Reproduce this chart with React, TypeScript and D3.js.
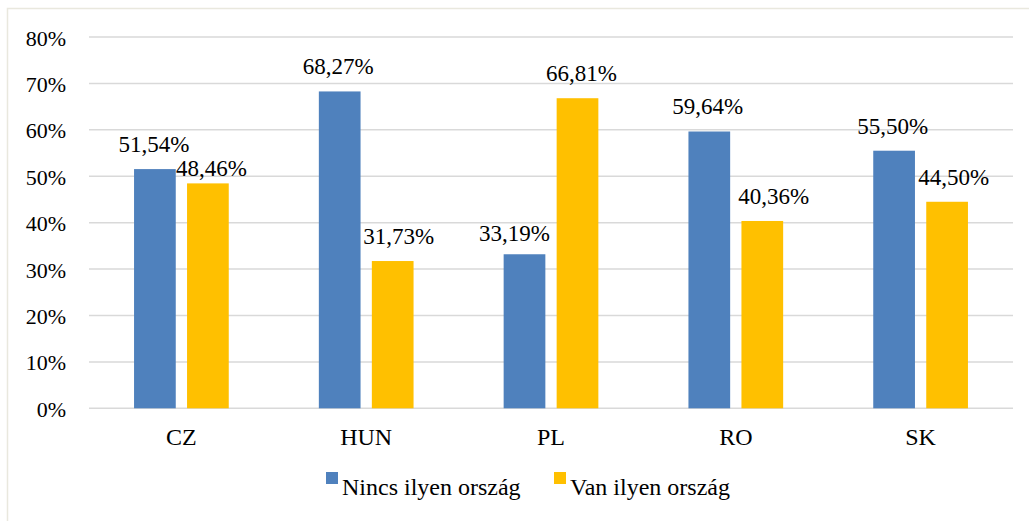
import React from "react";
import * as d3 from "d3";

const categories = ["CZ", "HUN", "PL", "RO", "SK"];
const seriesNames = ["Nincs ilyen ország", "Van ilyen ország"];
const nincs = [51.54, 68.27, 33.19, 59.64, 55.5];
const van = [48.46, 31.73, 66.81, 40.36, 44.5];
const yTicks = [0, 10, 20, 30, 40, 50, 60, 70, 80];
const colors = ["#4F81BD", "#FFC000"];

// label nudges (layout only)
const labelDx = [
  [-1, -1.5, -10, -1.5, -1.5],
  [3.5, 6, 4, 11.5, 6.5],
];
const labelDy = [
  [0, 0, 4, 0, 0],
  [10, 0, 0, 0, 0],
];

const W = 1029;
const H = 521;
const textStyle = { fontFamily: "Liberation Serif, Times New Roman, DejaVu Serif, serif" };

export default function App() {
  const y = d3.scaleLinear().domain([0, 80]).range([408.3, 37]);
  const x0 = d3
    .scaleBand<string>()
    .domain(categories)
    .range([89, 1013])
    .paddingInner(0.4875)
    .paddingOuter(0.4875 / 2);
  const x1 = d3
    .scaleBand<string>()
    .domain(seriesNames)
    .range([0, x0.bandwidth()])
    .paddingInner(0.213)
    .paddingOuter(0);
  const series = [nincs, van];
  const fmt = (v: number) => v.toFixed(2).replace(".", ",") + "%";

  return (
    <svg
      width={W}
      height={H}
      style={{ position: "absolute", left: 0, top: 0, background: "#fff" }}
    >
      <rect x={7.5} y={8.5} width={1040} height={540} fill="#fff" stroke="#E9E8DE" strokeWidth={1.5} />
      {yTicks.map((t) => (
        <g key={t}>
          <line x1={89} x2={1013} y1={y(t)} y2={y(t)} stroke="#D9D9D9" strokeWidth={1.5} />
          <text x={66} y={y(t) + 8.5} textAnchor="end" fontSize={22} fill="#000" style={textStyle}>
            {t}%
          </text>
        </g>
      ))}
      {series.map((vals, si) =>
        vals.map((v, ci) => {
          const cx = (x0(categories[ci]) ?? 0) + (x1(seriesNames[si]) ?? 0);
          const bw = x1.bandwidth();
          return (
            <g key={`${si}-${ci}`}>
              <rect x={cx} y={y(v)} width={bw} height={y(0) - y(v)} fill={colors[si]} />
              <text
                x={cx + bw / 2 + labelDx[si][ci]}
                y={y(v) - 17 + labelDy[si][ci]}
                textAnchor="middle"
                fontSize={23}
                fill="#000"
                style={textStyle}
              >
                {fmt(v)}
              </text>
            </g>
          );
        })
      )}
      {categories.map((c) => (
        <text
          key={c}
          x={(x0(c) ?? 0) + x0.bandwidth() / 2}
          y={445}
          textAnchor="middle"
          fontSize={24}
          fill="#000"
          style={textStyle}
        >
          {c}
        </text>
      ))}
      <g>
        <rect x={326} y={472} width={12} height={12} fill={colors[0]} />
        <text x={342} y={495} fontSize={24} fill="#000" style={textStyle}>
          {seriesNames[0]}
        </text>
        <rect x={554} y={472} width={12} height={12} fill={colors[1]} />
        <text x={570} y={495} fontSize={24} fill="#000" style={textStyle}>
          {seriesNames[1]}
        </text>
      </g>
    </svg>
  );
}
